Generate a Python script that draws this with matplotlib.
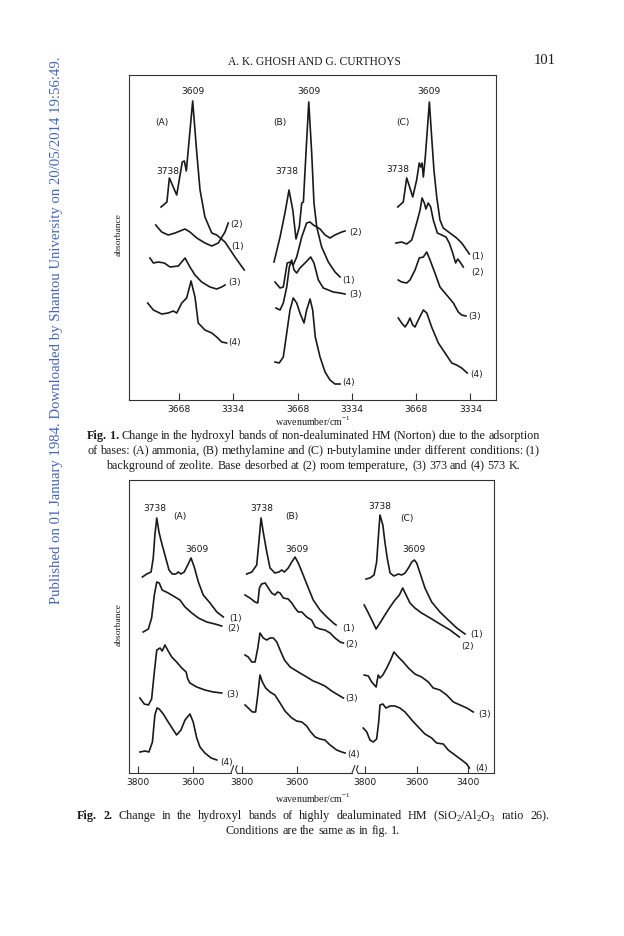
import matplotlib.pyplot as plt
import numpy as np

# ---------------- data : Fig. 1 (non-dealuminated HM) ----------------
# wavenumber (cm-1) / absorbance (arbitrary, stacked as printed)
f1_A1_wn = [3775, 3739, 3724, 3679, 3645, 3632, 3620, 3581, 3556, 3536, 3506, 3464, 3434, 3383, 3322, 3265]
f1_A1_ab = [1.93, 1.98, 2.22, 2.05, 2.38, 2.39, 2.29, 2.99, 2.47, 2.10, 1.83, 1.67, 1.65, 1.58, 1.43, 1.30]
f1_A2_wn = [3808, 3771, 3731, 3689, 3628, 3598, 3556, 3506, 3464, 3424, 3383, 3363]
f1_A2_ab = [1.75, 1.68, 1.65, 1.67, 1.71, 1.68, 1.62, 1.57, 1.54, 1.57, 1.68, 1.77]
f1_A3_wn = [3843, 3822, 3792, 3755, 3720, 3669, 3628, 3598, 3567, 3526, 3475, 3434, 3403, 3383]
f1_A3_ab = [1.42, 1.37, 1.38, 1.37, 1.33, 1.34, 1.42, 1.33, 1.25, 1.18, 1.13, 1.11, 1.13, 1.15]
f1_A4_wn = [3857, 3822, 3771, 3731, 3700, 3679, 3648, 3618, 3591, 3567, 3547, 3506, 3464, 3434, 3403, 3373]
f1_A4_ab = [0.97, 0.90, 0.86, 0.87, 0.89, 0.87, 0.97, 1.02, 1.19, 1.03, 0.77, 0.70, 0.67, 0.63, 0.58, 0.57]

f1_B1_wn = [3812, 3775, 3745, 3720, 3697, 3677, 3657, 3642, 3632, 3616, 3599, 3581, 3567, 3550, 3520, 3479, 3438, 3407]
f1_B1_ab = [1.38, 1.63, 1.87, 2.10, 1.90, 1.61, 1.73, 1.97, 1.98, 2.47, 2.98, 2.47, 1.97, 1.73, 1.53, 1.38, 1.28, 1.23]
f1_B2_wn = [3806, 3775, 3755, 3731, 3710, 3694, 3673, 3642, 3612, 3591, 3571, 3530, 3499, 3469, 3438, 3397, 3377]
f1_B2_ab = [1.18, 1.12, 1.13, 1.37, 1.38, 1.35, 1.43, 1.63, 1.77, 1.78, 1.75, 1.71, 1.65, 1.62, 1.65, 1.68, 1.69]
f1_B3_wn = [3800, 3775, 3755, 3734, 3718, 3704, 3689, 3673, 3653, 3622, 3587, 3567, 3540, 3510, 3479, 3449, 3407, 3377]
f1_B3_ab = [0.92, 0.90, 0.97, 1.13, 1.33, 1.40, 1.30, 1.27, 1.32, 1.37, 1.43, 1.37, 1.20, 1.12, 1.10, 1.08, 1.07, 1.06]
f1_B4_wn = [3806, 3780, 3755, 3734, 3714, 3694, 3673, 3653, 3628, 3612, 3591, 3575, 3559, 3530, 3499, 3469, 3438, 3407]
f1_B4_ab = [0.38, 0.37, 0.43, 0.67, 0.90, 1.02, 0.97, 0.87, 0.77, 0.90, 1.01, 0.90, 0.63, 0.43, 0.28, 0.20, 0.16, 0.16]

f1_C1_wn = [3780, 3746, 3725, 3705, 3688, 3664, 3648, 3639, 3631, 3623, 3611, 3586, 3572, 3558, 3541, 3521, 3501, 3460, 3419, 3388, 3362, 3341]
f1_C1_ab = [1.93, 1.98, 2.22, 2.12, 2.03, 2.20, 2.37, 2.33, 2.37, 2.23, 2.43, 2.98, 2.63, 2.30, 2.03, 1.80, 1.72, 1.67, 1.62, 1.57, 1.51, 1.46]
f1_C2_wn = [3791, 3756, 3725, 3694, 3664, 3643, 3631, 3617, 3607, 3593, 3578, 3562, 3537, 3510, 3484, 3464, 3443, 3425, 3412, 3398, 3378]
f1_C2_ab = [1.57, 1.58, 1.56, 1.60, 1.77, 1.90, 2.02, 1.97, 1.91, 1.97, 1.93, 1.80, 1.67, 1.65, 1.63, 1.57, 1.47, 1.37, 1.41, 1.38, 1.33]
f1_C3_wn = [3777, 3756, 3725, 3705, 3674, 3648, 3623, 3602, 3582, 3552, 3521, 3480, 3439, 3409, 3388, 3362]
f1_C3_ab = [1.20, 1.18, 1.17, 1.20, 1.30, 1.42, 1.43, 1.48, 1.40, 1.27, 1.13, 1.05, 0.97, 0.88, 0.85, 0.84]
f1_C4_wn = [3777, 3756, 3735, 3719, 3705, 3688, 3674, 3654, 3623, 3602, 3572, 3531, 3490, 3449, 3419, 3388, 3354]
f1_C4_ab = [0.82, 0.77, 0.73, 0.77, 0.82, 0.75, 0.73, 0.80, 0.90, 0.87, 0.73, 0.57, 0.47, 0.37, 0.35, 0.32, 0.27]

# ---------------- data : Fig. 2 (highly dealuminated HM) ----------------
f2_A1_wn = [3785, 3769, 3753, 3745, 3739, 3732, 3724, 3714, 3702, 3687, 3675, 3662, 3653, 3643, 3631, 3618, 3606, 3594, 3579, 3561, 3536, 3511, 3487]
f2_A1_ab = [1.96, 1.99, 2.01, 2.15, 2.38, 2.55, 2.41, 2.30, 2.18, 2.03, 1.99, 1.99, 2.01, 1.99, 2.01, 2.08, 2.15, 2.06, 1.91, 1.78, 1.70, 1.61, 1.56]
f2_A2_wn = [3782, 3763, 3751, 3741, 3732, 3723, 3712, 3690, 3665, 3647, 3628, 3603, 3579, 3548, 3518, 3493]
f2_A2_ab = [1.41, 1.44, 1.55, 1.78, 1.91, 1.90, 1.83, 1.80, 1.76, 1.73, 1.66, 1.60, 1.55, 1.51, 1.49, 1.47]
f2_A3_wn = [3794, 3778, 3763, 3751, 3741, 3732, 3720, 3712, 3702, 3690, 3677, 3659, 3640, 3624, 3618, 3610, 3585, 3555, 3524, 3493]
f2_A3_ab = [0.75, 0.69, 0.68, 0.74, 1.01, 1.23, 1.25, 1.22, 1.28, 1.22, 1.16, 1.11, 1.05, 1.01, 0.94, 0.90, 0.86, 0.83, 0.81, 0.80]
f2_A4_wn = [3794, 3775, 3761, 3748, 3739, 3731, 3723, 3708, 3690, 3671, 3659, 3643, 3628, 3610, 3598, 3585, 3573, 3555, 3532, 3511]
f2_A4_ab = [0.21, 0.22, 0.21, 0.31, 0.58, 0.65, 0.64, 0.59, 0.51, 0.43, 0.38, 0.43, 0.53, 0.59, 0.51, 0.35, 0.26, 0.20, 0.15, 0.13]

f2_B1_wn = [3784, 3765, 3747, 3739, 3731, 3723, 3710, 3698, 3680, 3665, 3655, 3645, 3631, 3618, 3606, 3594, 3576, 3557, 3539, 3514, 3489, 3465, 3455]
f2_B1_ab = [1.99, 2.01, 2.08, 2.31, 2.55, 2.41, 2.21, 2.05, 2.00, 2.01, 2.03, 2.01, 2.05, 2.11, 2.16, 2.10, 1.98, 1.85, 1.73, 1.63, 1.56, 1.50, 1.48]
f2_B2_wn = [3790, 3772, 3753, 3743, 3737, 3729, 3716, 3704, 3692, 3680, 3670, 3661, 3649, 3631, 3618, 3606, 3594, 3581, 3563, 3545, 3532, 3514, 3496, 3477, 3459, 3440, 3428]
f2_B2_ab = [1.78, 1.75, 1.71, 1.70, 1.85, 1.89, 1.90, 1.85, 1.80, 1.78, 1.81, 1.80, 1.75, 1.74, 1.70, 1.65, 1.61, 1.61, 1.56, 1.53, 1.46, 1.44, 1.43, 1.40, 1.35, 1.31, 1.30]
f2_B3_wn = [3790, 3778, 3765, 3753, 3743, 3735, 3723, 3710, 3698, 3686, 3673, 3661, 3645, 3624, 3606, 3588, 3563, 3539, 3520, 3496, 3471, 3447, 3428]
f2_B3_ab = [1.18, 1.16, 1.11, 1.11, 1.25, 1.40, 1.35, 1.33, 1.35, 1.35, 1.31, 1.23, 1.13, 1.06, 1.03, 1.00, 0.96, 0.92, 0.90, 0.87, 0.82, 0.78, 0.75]
f2_B4_wn = [3790, 3778, 3763, 3751, 3743, 3735, 3726, 3714, 3698, 3680, 3661, 3643, 3618, 3600, 3581, 3563, 3551, 3532, 3514, 3496, 3477, 3453, 3434, 3422]
f2_B4_ab = [0.68, 0.65, 0.61, 0.61, 0.78, 0.98, 0.91, 0.85, 0.81, 0.78, 0.70, 0.62, 0.55, 0.52, 0.51, 0.47, 0.42, 0.36, 0.34, 0.33, 0.28, 0.23, 0.21, 0.20]

f2_C1_wn = [3796, 3781, 3765, 3755, 3747, 3742, 3731, 3723, 3714, 3703, 3688, 3671, 3658, 3645, 3632, 3619, 3609, 3600, 3587, 3568, 3542, 3510, 3478, 3445, 3413]
f2_C1_ab = [1.94, 1.95, 1.98, 2.11, 2.41, 2.58, 2.48, 2.31, 2.15, 2.00, 1.97, 1.99, 1.98, 2.00, 2.05, 2.11, 2.13, 2.10, 2.00, 1.85, 1.71, 1.61, 1.53, 1.45, 1.39]
f2_C2_wn = [3803, 3787, 3770, 3757, 3742, 3723, 3703, 3684, 3667, 3654, 3641, 3626, 3607, 3581, 3548, 3510, 3471, 3435]
f2_C2_ab = [1.68, 1.60, 1.51, 1.44, 1.50, 1.58, 1.66, 1.73, 1.78, 1.85, 1.78, 1.70, 1.65, 1.60, 1.55, 1.49, 1.43, 1.36]
f2_C3_wn = [3803, 3787, 3774, 3757, 3749, 3742, 3731, 3716, 3701, 3688, 3671, 3652, 3632, 3607, 3581, 3555, 3536, 3510, 3484, 3458, 3432, 3406, 3381]
f2_C3_ab = [0.98, 0.97, 0.91, 0.86, 0.98, 0.95, 0.98, 1.05, 1.13, 1.21, 1.16, 1.11, 1.05, 0.99, 0.96, 0.91, 0.85, 0.83, 0.78, 0.71, 0.68, 0.65, 0.61]
f2_C4_wn = [3807, 3793, 3781, 3768, 3755, 3747, 3742, 3731, 3719, 3703, 3684, 3665, 3645, 3619, 3594, 3568, 3542, 3523, 3497, 3478, 3452, 3426, 3406, 3396]
f2_C4_ab = [0.45, 0.41, 0.33, 0.31, 0.34, 0.51, 0.68, 0.69, 0.65, 0.67, 0.67, 0.65, 0.61, 0.53, 0.46, 0.39, 0.35, 0.30, 0.29, 0.23, 0.18, 0.13, 0.09, 0.05]

curve_names = ["(1)", "(2)", "(3)", "(4)"]
f1_ticks = [3668, 3334]
f2_ticks = [[3800, 3600], [3800, 3600], [3800, 3600, 3400]]

# label anchors (wn, absorbance) for the curve numbers and peak marks
f1_curve_lab = [[(3342, 1.53), (3352, 1.75), (3366, 1.17), (3366, 0.57)],
                [(3391, 1.20), (3350, 1.67), (3350, 1.06), (3391, 0.17)],
                [(3327, 1.43), (3327, 1.28), (3347, 0.84), (3337, 0.26)]]
f1_peak_lab = [[("3609", 3581, 3.09), ("(A)", 3771, 2.77), ("3738", 3731, 2.29)],
               [("3609", 3596, 3.09), ("(B)", 3775, 2.77), ("3738", 3734, 2.29)],
               [("3609", 3586, 3.09), ("(C)", 3746, 2.77), ("3738", 3777, 2.31)]]
f2_curve_lab = [[(3465, 1.55), (3472, 1.44), (3477, 0.79), (3497, 0.11)],
                [(3434, 1.45), (3422, 1.29), (3422, 0.74), (3412, 0.18)],
                [(3394, 1.39), (3426, 1.26), (3362, 0.58), (3374, 0.05)]]
f2_peak_lab = [[("3738", 3739, 2.64), ("(A)", 3647, 2.56), ("3609", 3585, 2.24)],
               [("3738", 3729, 2.64), ("(B)", 3618, 2.56), ("3609", 3600, 2.24)],
               [("3738", 3742, 2.66), ("(C)", 3639, 2.55), ("3609", 3609, 2.24)]]

fig1_curves = [[(f1_A1_wn, f1_A1_ab), (f1_A2_wn, f1_A2_ab), (f1_A3_wn, f1_A3_ab), (f1_A4_wn, f1_A4_ab)],
               [(f1_B1_wn, f1_B1_ab), (f1_B2_wn, f1_B2_ab), (f1_B3_wn, f1_B3_ab), (f1_B4_wn, f1_B4_ab)],
               [(f1_C1_wn, f1_C1_ab), (f1_C2_wn, f1_C2_ab), (f1_C3_wn, f1_C3_ab), (f1_C4_wn, f1_C4_ab)]]
fig2_curves = [[(f2_A1_wn, f2_A1_ab), (f2_A2_wn, f2_A2_ab), (f2_A3_wn, f2_A3_ab), (f2_A4_wn, f2_A4_ab)],
               [(f2_B1_wn, f2_B1_ab), (f2_B2_wn, f2_B2_ab), (f2_B3_wn, f2_B3_ab), (f2_B4_wn, f2_B4_ab)],
               [(f2_C1_wn, f2_C1_ab), (f2_C2_wn, f2_C2_ab), (f2_C3_wn, f2_C3_ab), (f2_C4_wn, f2_C4_ab)]]

plt.rcParams['mathtext.fontset'] = 'custom'
plt.rcParams['mathtext.rm'] = 'Liberation Serif'

W, H = 624, 936
fig = plt.figure(figsize=(W / 100, H / 100), dpi=100)
SERIF = 'Liberation Serif'
SANS = 'DejaVu Sans'
INK = '#1a1a1a'


def px_axes(left, top, right, bottom):
    return fig.add_axes([left / W, 1 - bottom / H, (right - left) / W, (bottom - top) / H])


def frame(left, top, right, bottom, ymax, show_bottom=True):
    ax = px_axes(left, top, right, bottom)
    ax.set_xlim(0, 1)
    ax.set_ylim(0, ymax)
    ax.set_xticks([])
    ax.set_yticks([])
    ax.patch.set_alpha(0)
    for s in ax.spines.values():
        s.set_linewidth(0.8)
        s.set_color('#333333')
    ax.spines['bottom'].set_visible(show_bottom)
    return ax


def panel(left, right, top, bottom, ymax, wn_ref, px_ref, cm_per_px, ticks, bottom_line=False):
    ax = px_axes(left, top, right, bottom)
    ax.set_xlim(wn_ref + (px_ref - left) * cm_per_px, wn_ref - (right - px_ref) * cm_per_px)
    ax.set_ylim(0, ymax)
    ax.patch.set_alpha(0)
    for k, s in ax.spines.items():
        s.set_visible(False)
    if bottom_line:
        ax.spines['bottom'].set_visible(True)
        ax.spines['bottom'].set_linewidth(0.8)
        ax.spines['bottom'].set_color('#333333')
    ax.set_yticks([])
    ax.set_xticks(ticks)
    ax.set_xticklabels([str(t) for t in ticks], fontsize=6.6, family=SANS, color=INK)
    ax.tick_params(axis='x', direction='in', length=5, width=0.8, pad=3.5, color='#333333')
    return ax


def draw_panel(ax, curves, curve_lab, peak_lab):
    for (wn, ab), name, (lx, ly) in zip(curves, curve_names, curve_lab):
        ax.plot(wn, ab, color=INK, lw=1.2, solid_joinstyle='round', clip_on=False)
        ax.text(lx, ly, name, fontsize=6.4, family=SANS, color=INK, ha='left', va='center')
    for txt, x, y in peak_lab:
        ax.text(x, y, txt, fontsize=6.6, family=SANS, color=INK, ha='center', va='center')


# ---------------- Fig. 1 ----------------
frame(129, 75, 496, 400, 3.25)
f1_layout = [(129, 260, 178.5), (260, 380, 297.5), (380, 496, 416)]
for (l, r, ref), curves, cl, pl in zip(f1_layout, fig1_curves, f1_curve_lab, f1_peak_lab):
    ax = panel(l, r, 75, 400, 3.25, 3668, ref, 6.13, f1_ticks)
    draw_panel(ax, curves, cl, pl)

# ---------------- Fig. 2 ----------------
frame(129, 480, 494, 773, 2.93, show_bottom=False)
f2_layout = [(129, 231, 3800, 138.3, 3.68), (237, 352, 3800, 242.3, 3.68), (358, 494, 3800, 365, 3.87)]
for i, ((l, r, wref, ref, sc), curves, cl, pl) in enumerate(zip(f2_layout, fig2_curves, f2_curve_lab, f2_peak_lab)):
    ax = panel(l, r, 480, 773, 2.93, wref, ref, sc, f2_ticks[i], bottom_line=True)
    draw_panel(ax, curves, cl, pl)
    # axis break marks
    tr = ax.transAxes
    if i < 2:
        ax.plot([1.0, 1.025], [0.0, 0.025], transform=tr, color='#333333', lw=0.8, clip_on=False)
    if i > 0:
        ax.plot([0.0, -0.012, 0.0], [0.0, 0.012, 0.025], transform=tr, color='#333333', lw=0.8, clip_on=False)

# ---------------- page text ----------------
def ftext(x, y, s, **kw):
    return fig.text(x / W, 1 - y / H, s, **kw)


ftext(314, 62, "A. K. GHOSH AND G. CURTHOYS", fontsize=8.3, family=SERIF, ha='center', va='center', color=INK)
ftext(545, 61, "101", fontsize=10.5, family=SERIF, ha='center', va='center', color=INK)
ftext(57, 330, "Published on 01 January 1984. Downloaded by Shantou University on 20/05/2014 19:56:49.",
      fontsize=10.6, family=SERIF, rotation=90, ha='center', va='center', color='#4466b8')

ftext(119, 235, "absorbance", fontsize=6.8, family=SERIF, rotation=90, ha='center', va='center', color=INK)
ftext(119, 625, "absorbance", fontsize=6.8, family=SERIF, rotation=90, ha='center', va='center', color=INK)
ftext(313, 421, "wavenumber/cm$^{-1}$", fontsize=7.2, family=SERIF, ha='center', va='center', color=INK)
ftext(313, 798, "wavenumber/cm$^{-1}$", fontsize=7.2, family=SERIF, ha='center', va='center', color=INK)

renderer = fig.canvas.get_renderer()


def caption_line(y, parts, size=8.7, cx=313, span=None):
    # parts: (text, weight); span=(x0, x1) justifies the words across that width
    words = []
    for s, w in parts:
        for k, word in enumerate(s.split(' ')):
            if word:
                words.append((word, w))
    objs = [ftext(0, y, wd, fontsize=size, family=SERIF, fontweight=w, ha='left', va='center', color=INK)
            for wd, w in words]
    widths = [o.get_window_extent(renderer).width for o in objs]
    space = ftext(0, y, "a a", fontsize=size, family=SERIF).get_window_extent(renderer).width
    space -= 2 * ftext(0, y, "a", fontsize=size, family=SERIF).get_window_extent(renderer).width
    for t in fig.texts[-2:]:
        t.remove()
    if span is None:
        total = sum(widths) + space * (len(words) - 1)
        x0, gap = cx - total / 2, space
    else:
        x0, gap = span[0], (span[1] - span[0] - sum(widths)) / (len(words) - 1)
    x = x0
    for o, wd in zip(objs, widths):
        o.set_x(x / W)
        x += wd + gap


caption_line(436, [("Fig. 1.", 'bold'), (" Change in the hydroxyl bands of non-dealuminated HM (Norton) due to the adsorption", 'normal')], span=(87, 540))
caption_line(451, [("of bases: (A) ammonia, (B) methylamine and (C) n-butylamine under different conditions: (1)", 'normal')], span=(87, 540))
caption_line(466, [("background of zeolite. Base desorbed at (2) room temperature, (3) 373 and (4) 573 K.", 'normal')])
caption_line(816, [("Fig. 2.", 'bold'), (" Change in the hydroxyl bands of highly dealuminated HM (SiO$_2$/Al$_2$O$_3$ ratio 26).", 'normal')], span=(77, 549))
caption_line(831, [("Conditions are the same as in fig. 1.", 'normal')])

fig.savefig("out.png", dpi=100)
